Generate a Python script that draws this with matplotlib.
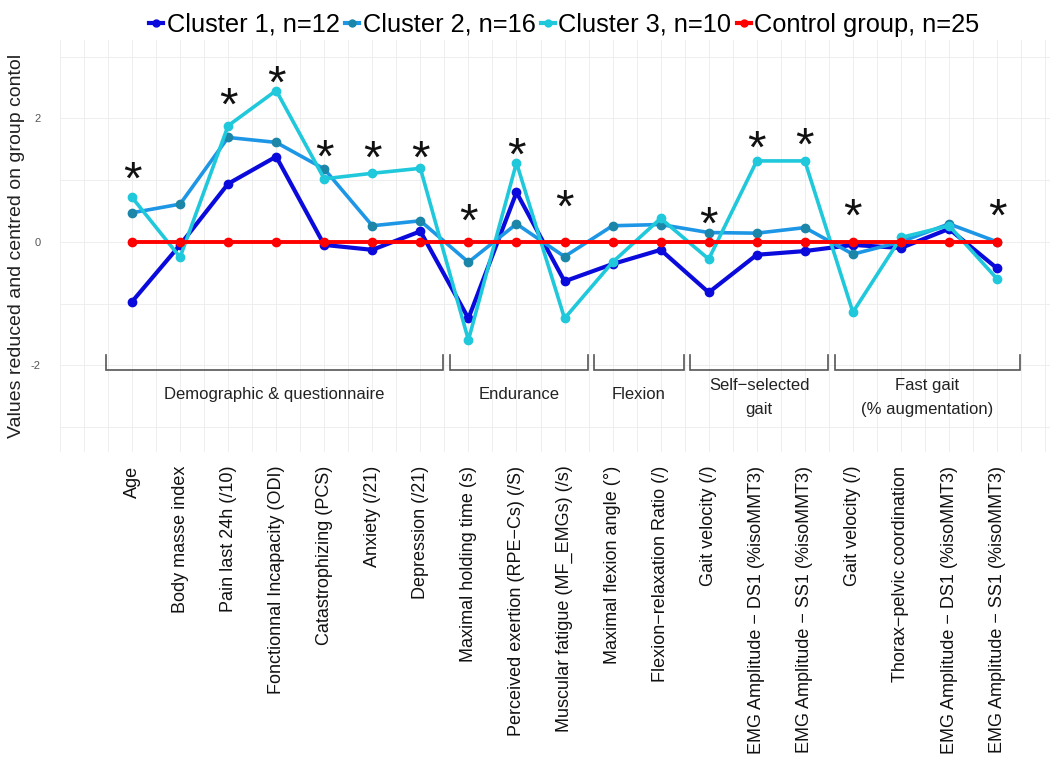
import matplotlib
matplotlib.use('Agg')
import matplotlib.pyplot as plt
import numpy as np
from matplotlib.lines import Line2D

plt.rcParams['font.family'] = ['Liberation Sans', 'DejaVu Sans']

labels = ['Age', 'Body masse index', 'Pain last 24h (/10)', 'Fonctionnal Incapacity (ODI)',
          'Catastrophizing (PCS)', 'Anxiety (/21)', 'Depression (/21)',
          'Maximal holding time (s)', 'Perceived exertion (RPE\u2212Cs) (/S)', 'Muscular fatigue (MF_EMGs) (/s)',
          'Maximal flexion angle (\u00b0)', 'Flexion\u2212relaxation Ratio (/)',
          'Gait velocity (/)', 'EMG Amplitude \u2212 DS1 (%isoMMT3)', 'EMG Amplitude \u2212 SS1 (%isoMMT3)',
          'Gait velocity (/)', 'Thorax\u2212pelvic coordination', 'EMG Amplitude \u2212 DS1 (%isoMMT3)',
          'EMG Amplitude \u2212 SS1 (%isoMMT3)']

cluster1 = [-0.97, -0.05, 0.94, 1.38, -0.05, -0.13, 0.17, -1.24, 0.80, -0.64,
            -0.36, -0.13, -0.82, -0.21, -0.15, -0.05, -0.10, 0.21, -0.43]
cluster2 = [0.47, 0.61, 1.69, 1.61, 1.18, 0.26, 0.34, -0.33, 0.29, -0.24,
            0.26, 0.28, 0.15, 0.14, 0.23, -0.20, 0.00, 0.29, 0.00]
cluster3 = [0.72, -0.25, 1.88, 2.45, 1.02, 1.11, 1.19, -1.59, 1.28, -1.24,
            -0.33, 0.38, -0.28, 1.31, 1.31, -1.14, 0.07, 0.26, -0.60]
control = [0.0] * 19

# significance stars: (category index, height of star)
star_idx = [0, 2, 3, 4, 5, 6, 7, 8, 9, 12, 13, 14, 15, 18]
star_y = [1.17, 2.38, 2.73, 1.53, 1.52, 1.52, 0.49, 1.57, 0.73, 0.44, 1.68, 1.73, 0.57, 0.57]

groups = ['Demographic & questionnaire', 'Endurance', 'Flexion', 'Self\u2212selected\ngait',
          'Fast gait\n(% augmentation)']
group_span = [(0, 6), (7, 9), (10, 11), (12, 14), (15, 18)]

series = [('Cluster 1, n=12', cluster1, '#0A0ADC', '#0A0ADC', 3.0),
          ('Cluster 2, n=16', cluster2, '#1E96E6', '#1C86A8', 2.6),
          ('Cluster 3, n=10', cluster3, '#1FC8DA', '#1FC8DA', 2.6),
          ('Control group, n=25', control, '#FF0000', '#FF0000', 2.8)]

fig = plt.figure(figsize=(10.51, 7.67), dpi=100)
ax = fig.add_axes([0.057, 0.411, 0.942, 0.537])
x = np.arange(len(labels))

for v in np.arange(-1.5, 19.5, 0.5):
    ax.axvline(v, color='#EEEEEE', lw=0.7, zorder=0)
for h in range(-3, 4):
    ax.axhline(h, color='#EEEEEE', lw=0.7, zorder=0)

for name, vals, col, mcol, lw in series:
    ax.plot(x, vals, color=col, lw=lw, marker='o', ms=6, mfc=mcol, mec=mcol, zorder=3)

fs_star = 34
for i, yv in zip(star_idx, star_y):
    ax.annotate('*', (x[i], yv), xytext=(0, -0.52 * fs_star), textcoords='offset points',
                ha='center', va='baseline', fontsize=fs_star, color='#111111', zorder=5)

# group brackets
bc = '#555555'
for k, ((a, b), g) in enumerate(zip(group_span, groups)):
    left = a - 0.55 if k == 0 else a - 0.38
    right = b + 0.48
    ax.plot([left, left, right, right], [-1.83, -2.07, -2.07, -1.83], color=bc, lw=1.2,
            solid_joinstyle='miter', zorder=4)
    ax.text((left + right) / 2, -2.52 if '\n' in g else -2.48, g, ha='center', va='center',
            fontsize=12, color='#222222', linespacing=1.75)

ax.set_xlim(-1.5, 19.1)
ax.set_ylim(-3.4, 3.27)
ax.set_xticks(x)
ax.set_xticklabels(labels, rotation=90, fontsize=13, color='#111111')
ax.set_yticks([-2, 0, 2])
ax.set_yticklabels(['-2', '0', '2'], fontsize=8, color='#555555')
ax.tick_params(length=0, pad=10)
ax.tick_params(axis='y', pad=14)
for s in ax.spines.values():
    s.set_visible(False)
ax.set_ylabel('Values reduced and centred on group contol', fontsize=14, color='#222222', labelpad=4)

handles = [Line2D([0], [0], color=c, lw=3, marker='o', ms=5, mfc=m, mec=m) for _, _, c, m, _ in series]
fig.legend(handles, [s[0] for s in series], loc='center', bbox_to_anchor=(0.537, 0.968), ncol=4,
           frameon=False, fontsize=18.3, handlelength=0.55, handletextpad=0.15, columnspacing=0.2)

fig.savefig('out.png', dpi=100)
